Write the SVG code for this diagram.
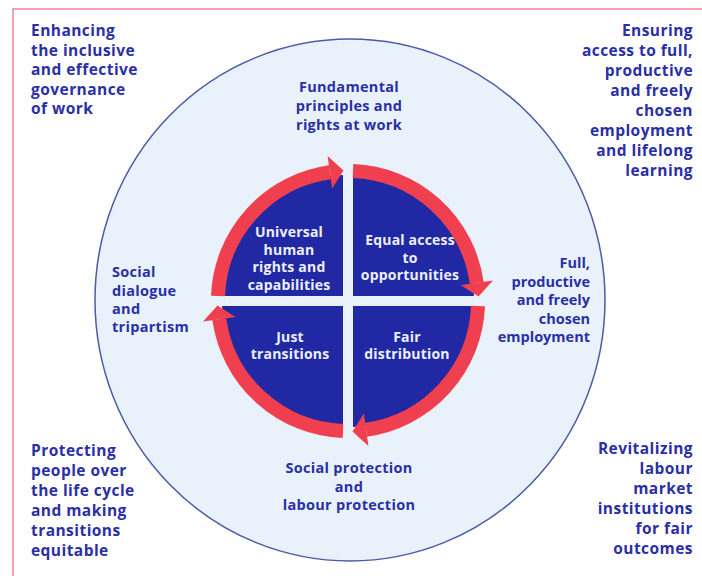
<svg xmlns="http://www.w3.org/2000/svg" xmlns:xlink="http://www.w3.org/1999/xlink" width="702" height="576" viewBox="0 0 702 576">
<style>
.o{font-family:"Open Sans","Noto Sans","Liberation Sans",sans-serif;font-weight:700;font-size:15.5px;letter-spacing:0.45px;fill:#2a2fa6}
.m{font-family:"Open Sans","Noto Sans","Liberation Sans",sans-serif;font-weight:700;font-size:14.5px;letter-spacing:0.3px;fill:#2a2fa6}
.i{font-family:"Open Sans","Noto Sans","Liberation Sans",sans-serif;font-weight:700;font-size:14px;letter-spacing:0.2px;fill:#eef0ff;text-anchor:middle}
.q{fill:#2128a3}
.arc{fill:none;stroke:#f0404f;stroke-width:14}
.head{fill:#f0404f}
</style>
<defs>
<g id="arrow">
<path class="arc" d="M5,-130 A130,130 0 0 1 128.7,-18.1"/>
<polygon class="head" points="112.6,-15.9 145,-20.4 130.5,-4.5"/>
</g>
</defs>
<rect x="0" y="0" width="702" height="576" fill="#ffffff"/>
<path d="M13,576 V9 H702" fill="none" stroke="#f2a3b1" stroke-width="2"/>
<g id="outer-circle">
<ellipse cx="350" cy="300" rx="255" ry="261" fill="#e9f2fb" stroke="#4d5aa8" stroke-width="1.5"/>
</g>
<g id="quadrant-tl">
<path class="q" d="M343,296 L343,175 A126,126 0 0 0 222,296 Z"/>
<text class="i"><tspan x="289" y="237">Universal</tspan><tspan x="289" y="254.5">human</tspan><tspan x="289" y="272">rights and</tspan><tspan x="289" y="289.5">capabilities</tspan></text>
</g>
<g id="quadrant-tr">
<path class="q" d="M353,296 L353,175 A126,126 0 0 1 474,296 Z"/>
<text class="i"><tspan x="410" y="245">Equal access</tspan><tspan x="410" y="262.5">to</tspan><tspan x="410" y="280">opportunities</tspan></text>
</g>
<g id="quadrant-br">
<path class="q" d="M353,306 L353,427 A126,126 0 0 0 474,306 Z"/>
<text class="i"><tspan x="407" y="342">Fair</tspan><tspan x="407" y="358.5">distribution</tspan></text>
</g>
<g id="quadrant-bl">
<path class="q" d="M343,306 L343,427 A126,126 0 0 1 222,306 Z"/>
<text class="i"><tspan x="290" y="342">Just</tspan><tspan x="290" y="358.5">transitions</tspan></text>
</g>
<g id="connectors">
<use xlink:href="#arrow" transform="translate(348,301)"/>
<use xlink:href="#arrow" transform="translate(348,301) rotate(90)"/>
<use xlink:href="#arrow" transform="translate(348,301) rotate(180)"/>
<use xlink:href="#arrow" transform="translate(348,301) rotate(270)"/>
</g>
<g id="label-top">
<text class="m" text-anchor="middle"><tspan x="349" y="92">Fundamental</tspan><tspan x="349" y="111">principles and</tspan><tspan x="349" y="130">rights at work</tspan></text>
</g>
<g id="label-bottom">
<text class="m" text-anchor="middle"><tspan x="349" y="473">Social protection</tspan><tspan x="349" y="492">and</tspan><tspan x="349" y="510">labour protection</tspan></text>
</g>
<g id="label-left">
<text class="m"><tspan x="112" y="277">Social</tspan><tspan x="112" y="295.5">dialogue</tspan><tspan x="112" y="314">and</tspan><tspan x="112" y="332">tripartism</tspan></text>
</g>
<g id="label-right">
<text class="m" text-anchor="end" style="letter-spacing:0px"><tspan x="590" y="268">Full,</tspan><tspan x="590" y="286.5">productive</tspan><tspan x="590" y="305">and freely</tspan><tspan x="590" y="323.5">chosen</tspan><tspan x="590" y="342">employment</tspan></text>
</g>
<g id="corner-tl">
<text class="o"><tspan x="31" y="36">Enhancing</tspan><tspan x="31" y="55.5">the inclusive</tspan><tspan x="31" y="75">and effective</tspan><tspan x="31" y="94.5">governance</tspan><tspan x="31" y="114">of work</tspan></text>
</g>
<g id="corner-tr">
<text class="o" text-anchor="end"><tspan x="693" y="36">Ensuring</tspan><tspan x="693" y="56">access to full,</tspan><tspan x="693" y="76">productive</tspan><tspan x="693" y="96">and freely</tspan><tspan x="693" y="116">chosen</tspan><tspan x="693" y="136">employment</tspan><tspan x="693" y="156">and lifelong</tspan><tspan x="693" y="176">learning</tspan></text>
</g>
<g id="corner-bl">
<text class="o"><tspan x="31" y="456">Protecting</tspan><tspan x="31" y="476">people over</tspan><tspan x="31" y="496">the life cycle</tspan><tspan x="31" y="516">and making</tspan><tspan x="31" y="536">transitions</tspan><tspan x="31" y="556">equitable</tspan></text>
</g>
<g id="corner-br">
<text class="o" text-anchor="end"><tspan x="693" y="454">Revitalizing</tspan><tspan x="693" y="474">labour</tspan><tspan x="693" y="494">market</tspan><tspan x="693" y="514">institutions</tspan><tspan x="693" y="534">for fair</tspan><tspan x="693" y="554">outcomes</tspan></text>
</g>
</svg>
